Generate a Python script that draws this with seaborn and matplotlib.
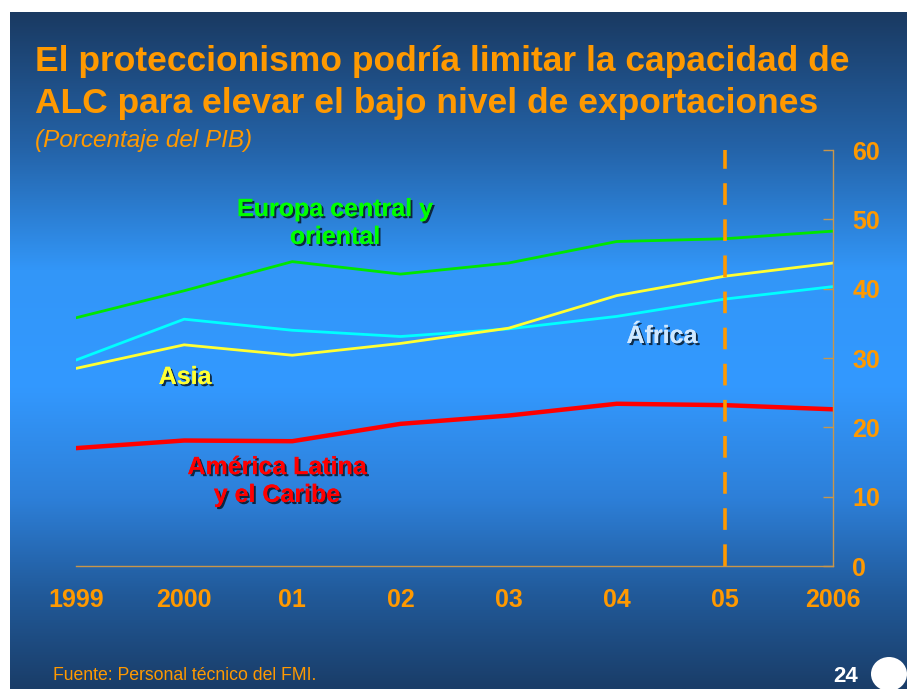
import numpy as np
import pandas as pd
import matplotlib
matplotlib.use("Agg")
import matplotlib.pyplot as plt
import seaborn as sns
from matplotlib.colors import LinearSegmentedColormap
from matplotlib.patches import Ellipse
import matplotlib.patheffects as pe

years = [1999, 2000, 2001, 2002, 2003, 2004, 2005, 2006]
year_labels = ["1999", "2000", "01", "02", "03", "04", "05", "2006"]
europa = [35.8, 39.7, 43.9, 42.1, 43.7, 46.8, 47.2, 48.3]
africa = [29.7, 35.6, 34.0, 33.1, 34.2, 36.0, 38.5, 40.3]
asia = [28.5, 31.9, 30.4, 32.1, 34.3, 39.0, 41.8, 43.7]
latam = [17.0, 18.1, 18.0, 20.5, 21.7, 23.4, 23.2, 22.6]
y_ticks = [0, 10, 20, 30, 40, 50, 60]

ORANGE = "#ff9900"
AXC = "#c8964a"

sns.set_theme(style="white")
plt.rcParams["font.family"] = ["Liberation Sans", "DejaVu Sans"]

W, H = 907, 689
fig = plt.figure(figsize=(W / 100, H / 100), dpi=100, facecolor="white")

# background gradient
bg = fig.add_axes([10 / W, 0, (W - 10) / W, (H - 12) / H])
stops = [(0.0, "#1a3a62"), (0.2, "#2463a8"), (0.38, "#3296f8"), (0.55, "#3399ff"),
         (0.72, "#2d7fd8"), (0.86, "#215a9a"), (1.0, "#1a3d68")]
cmap = LinearSegmentedColormap.from_list("bg", stops)
grad = np.linspace(0, 1, 256).reshape(-1, 1)
bg.imshow(grad, aspect="auto", cmap=cmap, extent=[0, 1, 1, 0])
bg.set_xlim(0, 1); bg.set_ylim(1, 0)
bg.axis("off")

# main axes
x0, x1 = 76, 833
y0, y1 = 566, 150
ax = fig.add_axes([x0 / W, (H - y0) / H, (x1 - x0) / W, (y0 - y1) / H])
ax.patch.set_alpha(0)

df = pd.DataFrame({
    "year": years * 4,
    "value": europa + africa + asia + latam,
    "region": ["Europa"] * 8 + ["Africa"] * 8 + ["Asia"] * 8 + ["LatAm"] * 8,
})
colors = {"Europa": "#00e600", "Africa": "#00ffff", "Asia": "#ffff33", "LatAm": "#ff0000"}
widths = {"Europa": 2.0, "Africa": 2.0, "Asia": 2.0, "LatAm": 3.2}
for reg in ["Europa", "Africa", "Asia", "LatAm"]:
    sns.lineplot(data=df[df.region == reg], x="year", y="value", color=colors[reg],
                 linewidth=widths[reg], ax=ax, legend=False)

ax.axvline(2005, color=ORANGE, lw=2.6, dashes=(6, 4), ymin=0, ymax=1)

ax.set_xlim(1999, 2006)
ax.set_ylim(0, 60)
ax.set_xlabel("")
ax.set_ylabel("")
for s in ["top", "left"]:
    ax.spines[s].set_visible(False)
for s in ["bottom", "right"]:
    ax.spines[s].set_visible(True)
    ax.spines[s].set_color(AXC)
    ax.spines[s].set_linewidth(1.0)
ax.set_xticks(years)
ax.set_xticklabels(year_labels)
ax.set_yticks(y_ticks)
ax.yaxis.tick_right()
ax.tick_params(axis="x", direction="in", length=7, width=1, color=AXC, pad=16,
               labelsize=18, labelcolor=ORANGE)
ax.tick_params(axis="y", direction="in", length=7, width=1, color=AXC, pad=14,
               labelsize=18, labelcolor=ORANGE, left=False, right=True,
               labelleft=False, labelright=True)
for t in ax.get_xticklabels() + ax.get_yticklabels():
    t.set_fontweight("bold")

shadow = [pe.withSimplePatchShadow(offset=(1.5, -1.5), shadow_rgbFace="black", alpha=0.7), pe.Normal()]

def label(px, py, text, color):
    fig.text(px / W, 1 - py / H, text, color=color, fontsize=18, fontweight="bold",
             ha="center", va="center", linespacing=1.2, path_effects=shadow)

label(335, 223, "Europa central y\noriental", "#00ff00")
label(185, 377, "Asia", "#ffff33")
label(662, 336, "África", "#cfe8ff")
label(277, 481, "América Latina\ny el Caribe", "#ff0000")

# titles
fig.text(35 / W, 1 - 62 / H, "El proteccionismo podría limitar la capacidad de",
         color=ORANGE, fontsize=25.5, fontweight="bold", va="center", ha="left")
fig.text(35 / W, 1 - 104 / H, "ALC para elevar el bajo nivel de exportaciones",
         color=ORANGE, fontsize=25.5, fontweight="bold", va="center", ha="left")
fig.text(35 / W, 1 - 140 / H, "(Porcentaje del PIB)", color=ORANGE, fontsize=17.5,
         style="italic", va="center", ha="left")

fig.text(53 / W, 1 - 675 / H, "Fuente: Personal técnico del FMI.", color=ORANGE,
         fontsize=12.7, va="center", ha="left")
fig.text(846 / W, 1 - 677 / H, "24", color="white", fontsize=16, fontweight="bold",
         va="center", ha="center")
fig.patches.append(Ellipse((889 / W, 1 - 674 / H), 36 / W, 34 / H, transform=fig.transFigure,
                           facecolor="white", edgecolor="none"))

fig.savefig("out.png", dpi=100, facecolor="white")
